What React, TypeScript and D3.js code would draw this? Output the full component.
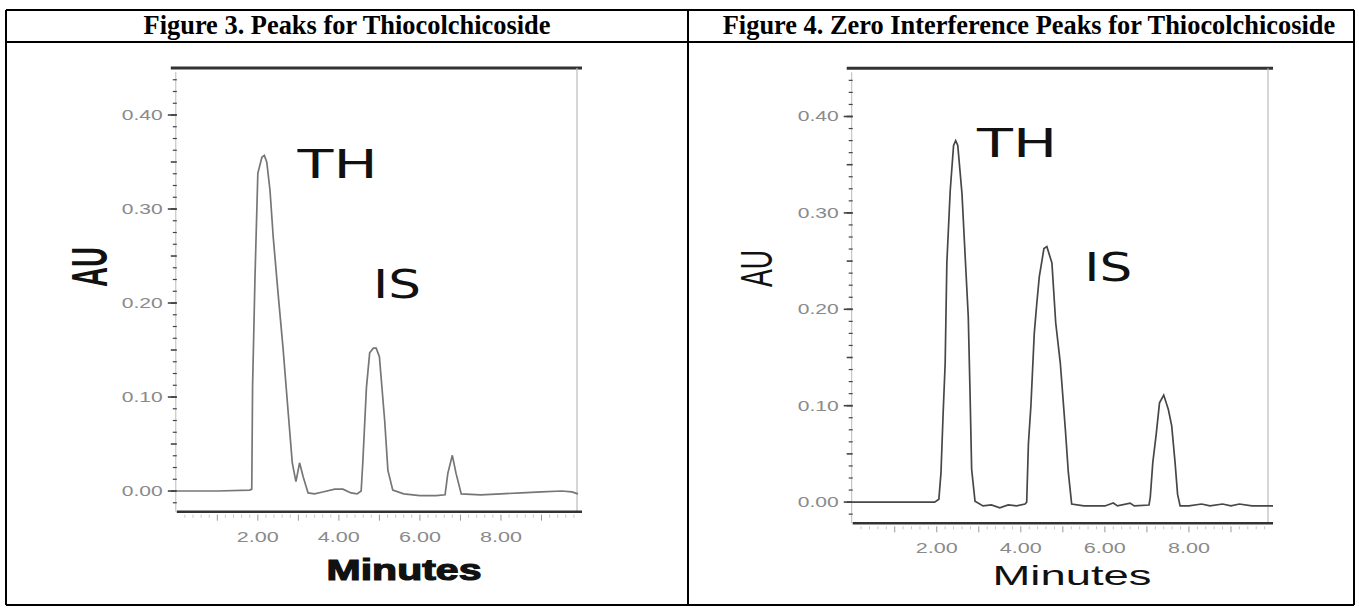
import * as d3 from "d3";

/* ------------------------------------------------------------------ */
/*  Data                                        */
/* ------------------------------------------------------------------ */

const FIG3_TIME = [
  0, 1.0, 1.8, 1.85, 1.87, 1.93, 2.0, 2.1, 2.16, 2.22, 2.3, 2.38, 2.5, 2.62,
  2.75, 2.85, 2.94, 3.03, 3.12, 3.24, 3.4, 3.6, 3.9, 4.1, 4.3, 4.45, 4.55,
  4.59, 4.68, 4.76, 4.85, 4.92, 5.0, 5.13, 5.21, 5.33, 5.6, 6.0, 6.4, 6.62,
  6.69, 6.8, 6.89, 7.02, 7.5, 8.0, 8.5, 9.0, 9.5, 9.75, 9.9,
];
const FIG3_AU = [
  0, 0, 0.001, 0.002, 0.111, 0.228, 0.338, 0.355, 0.357, 0.35, 0.32, 0.27,
  0.21, 0.153, 0.083, 0.03, 0.01, 0.03, 0.015, -0.002, -0.003, -0.001, 0.002,
  0.002, -0.002, -0.003, 0.0, 0.03, 0.11, 0.147, 0.152, 0.152, 0.143, 0.075,
  0.022, 0.001, -0.003, -0.005, -0.005, -0.004, 0.019, 0.038, 0.019, -0.003,
  -0.004, -0.003, -0.002, -0.001, 0.0, -0.001, -0.003,
];

const FIG4_TIME = [
  0, 1.0, 1.95, 2.05, 2.1, 2.15, 2.2, 2.24, 2.32, 2.4, 2.45, 2.5, 2.6, 2.67,
  2.75, 2.79, 2.83, 2.91, 3.1, 3.3, 3.5, 3.7, 3.9, 4.1, 4.14, 4.18, 4.24, 4.32,
  4.38, 4.44, 4.55, 4.62, 4.74, 4.83, 4.94, 5.06, 5.13, 5.21, 5.5, 6.0, 6.2,
  6.3, 6.6, 6.7, 7.05, 7.08, 7.14, 7.22, 7.3, 7.4, 7.51, 7.59, 7.67, 7.73,
  7.79, 8.0, 8.3, 8.5, 8.8, 9.0, 9.2, 9.5, 10.0,
];
const FIG4_AU = [
  0, 0, 0, 0.003, 0.03, 0.09, 0.144, 0.248, 0.323, 0.37, 0.375, 0.37, 0.32,
  0.26, 0.192, 0.117, 0.034, 0.001, -0.004, -0.003, -0.006, -0.003, -0.004,
  -0.002, 0.0, 0.06, 0.1, 0.175, 0.206, 0.234, 0.263, 0.265, 0.248, 0.186,
  0.144, 0.075, 0.031, -0.002, -0.004, -0.004, -0.001, -0.004, -0.001, -0.004,
  -0.003, 0.005, 0.041, 0.07, 0.103, 0.111, 0.096, 0.079, 0.041, 0.008,
  -0.004, -0.004, -0.002, -0.004, -0.002, -0.004, -0.002, -0.004, -0.004,
];

const TITLES = [
  "Figure 3. Peaks for Thiocolchicoside",
  "Figure 4. Zero Interference Peaks for Thiocolchicoside",
];

const Y_TICKS = [0.0, 0.1, 0.2, 0.3, 0.4];
const X_TICKS = [2, 4, 6, 8];
const X_DOMAIN: [number, number] = [0, 10];
const Y_DOMAIN: [number, number] = [-0.022, 0.45];

// peak annotations: [label, minutes, AU]
const FIG3_LABELS: [string, number, number][] = [
  ["TH", 2.98, 0.333],
  ["IS", 4.84, 0.205],
];
const FIG4_LABELS: [string, number, number][] = [
  ["TH", 2.96, 0.3585],
  ["IS", 5.51, 0.229],
];

/* ------------------------------------------------------------------ */
/*  Theme                                                              */
/* ------------------------------------------------------------------ */

const W = 1359;
const H = 609;
const SANS = "'Liberation Sans', Arial, sans-serif";
const TICK_GREY = "#8a8a8a";

type ChartProps = {
  time: number[];
  au: number[];
  labels: [string, number, number][];
  x0: number;
  x1: number;
  yTop: number;
  yBottom: number;
  lineColor: string;
  bold: boolean;
  auPos: [number, number];
  auSize: number;
  auLength: number;
  minutesPos: [number, number];
  minutesWidth: number;
};

function Chromatogram(p: ChartProps) {
  const x = d3.scaleLinear().domain(X_DOMAIN).range([p.x0, p.x1]);
  const y = d3.scaleLinear().domain(Y_DOMAIN).range([p.yBottom, p.yTop]);

  const pts = p.time.map((t, i) => [t, p.au[i]] as [number, number]);
  const line = d3
    .line<[number, number]>()
    .x((d) => x(d[0]))
    .y((d) => y(d[1]));

  const minorY = d3.range(-0.0125, 0.44, 0.0125);
  const minorX = d3.range(0.2, 10, 0.2);
  const axisX = p.x0 - 1;

  return (
    <g>
      {/* frame: heavy top, thin right */}
      <line x1={p.x0 - 6} x2={p.x1} y1={p.yTop} y2={p.yTop} stroke="#333" strokeWidth={3} />
      <line x1={p.x1 - 5} x2={p.x1 - 5} y1={p.yTop} y2={p.yBottom} stroke="#bbb" strokeWidth={1.2} />

      {/* y axis */}
      <line x1={axisX} x2={axisX} y1={p.yTop + 4} y2={p.yBottom} stroke="#bbb" strokeWidth={1} />
      {minorY.map((v, i) => {
        const big = Math.abs((v * 20) % 1) < 0.01 || Math.abs((v * 20) % 1) > 0.99;
        return (
          <line
            key={i}
            x1={axisX - (big ? 5 : 3)}
            x2={axisX + 1}
            y1={y(v)}
            y2={y(v)}
            stroke="#444"
            strokeWidth={big ? 1.6 : 1.2}
          />
        );
      })}
      {Y_TICKS.map((v) => (
        <g key={v}>
          <line x1={axisX - 8} x2={axisX + 1} y1={y(v)} y2={y(v)} stroke="#444" strokeWidth={1.6} />
          <text
            x={axisX - 13}
            y={y(v) + 5}
            textAnchor="end"
            fontFamily={SANS}
            fontSize={14}
            fill={TICK_GREY}
            textLength={41}
            lengthAdjust="spacingAndGlyphs"
          >
            {v.toFixed(2)}
          </text>
        </g>
      ))}

      {/* x axis */}
      <line x1={p.x0} x2={p.x1} y1={p.yBottom} y2={p.yBottom} stroke="#333" strokeWidth={2.5} />
      {minorX.map((v, i) => {
        const big = Math.abs(v - Math.round(v)) < 0.01;
        return (
          <line
            key={i}
            x1={x(v)}
            x2={x(v)}
            y1={p.yBottom + 3}
            y2={p.yBottom + (big ? 9 : 6)}
            stroke={big ? "#999" : "#c8c8c8"}
            strokeWidth={1}
          />
        );
      })}
      {X_TICKS.map((v) => (
        <text
          key={v}
          x={x(v)}
          y={p.yBottom + 30}
          textAnchor="middle"
          fontFamily={SANS}
          fontSize={14}
          fill={TICK_GREY}
          textLength={42}
          lengthAdjust="spacingAndGlyphs"
        >
          {v.toFixed(2)}
        </text>
      ))}

      {/* trace */}
      <path d={line(pts) ?? ""} fill="none" stroke={p.lineColor} strokeWidth={1.7} />

      {/* peak labels */}
      {p.labels.map(([lab, t, v]) => (
        <text
          key={lab}
          x={x(t)}
          y={y(v)}
          fontFamily="'DejaVu Sans', Verdana, sans-serif"
          fontSize={39}
          fill="#111"
          textLength={lab === "TH" ? 80 : 48}
          lengthAdjust="spacingAndGlyphs"
        >
          {lab}
        </text>
      ))}

      {/* axis titles */}
      <text
        transform={`translate(${p.auPos[0]},${p.auPos[1]}) rotate(-90)`}
        textAnchor="middle"
        fontFamily={SANS}
        fontWeight={p.bold ? 900 : 400}
        fontSize={p.auSize}
        fill="#111"
        textLength={p.auLength}
        lengthAdjust="spacingAndGlyphs"
      >
        AU
      </text>
      <text
        x={p.minutesPos[0]}
        y={p.minutesPos[1]}
        textAnchor="middle"
        fontFamily={SANS}
        fontWeight={p.bold ? 900 : 400}
        fontSize={p.bold ? 30 : 28}
        fill="#111"
        stroke={p.bold ? "#111" : "none"}
        strokeWidth={p.bold ? 1.2 : 0}
        textLength={p.minutesWidth}
        lengthAdjust="spacingAndGlyphs"
      >
        Minutes
      </text>
    </g>
  );
}

export default function App() {
  const left = 6;
  const mid = 688;
  const right = 1354;
  const top = 10;
  const sep = 42;
  const bottom = 605;

  return (
    <svg
      width={W}
      height={H}
      style={{ position: "absolute", left: 0, top: 0, background: "#fff" }}
    >
      <rect x={0} y={0} width={W} height={H} fill="#fff" />

      {/* table grid */}
      <g stroke="#000" strokeWidth={2}>
        <line x1={left} x2={right} y1={top} y2={top} />
        <line x1={left} x2={right} y1={sep} y2={sep} />
        <line x1={left} x2={right} y1={bottom} y2={bottom} />
        <line x1={left} x2={left} y1={top} y2={bottom} />
        <line x1={mid} x2={mid} y1={top} y2={bottom} />
        <line x1={right} x2={right} y1={top} y2={bottom} />
      </g>

      {TITLES.map((t, i) => (
        <text
          key={t}
          x={i === 0 ? (left + mid) / 2 : (mid + right) / 2 + 8}
          y={34}
          textAnchor="middle"
          fontFamily="'Liberation Serif', 'Times New Roman', serif"
          fontWeight={700}
          fontSize={26.4}
          fill="#000"
        >
          {t}
        </text>
      ))}

      <Chromatogram
        time={FIG3_TIME}
        au={FIG3_AU}
        labels={FIG3_LABELS}
        x0={176.8}
        x1={582}
        yTop={68}
        yBottom={511.7}
        lineColor="#767676"
        bold={true}
        auPos={[107, 267]}
        auSize={50}
        auLength={40}
        minutesPos={[404, 580]}
        minutesWidth={155}
      />
      <Chromatogram
        time={FIG4_TIME}
        au={FIG4_AU}
        labels={FIG4_LABELS}
        x0={852.7}
        x1={1273}
        yTop={68.3}
        yBottom={523.3}
        lineColor="#474747"
        bold={false}
        auPos={[772, 268.5]}
        auSize={44}
        auLength={37}
        minutesPos={[1072, 585]}
        minutesWidth={159}
      />
    </svg>
  );
}
